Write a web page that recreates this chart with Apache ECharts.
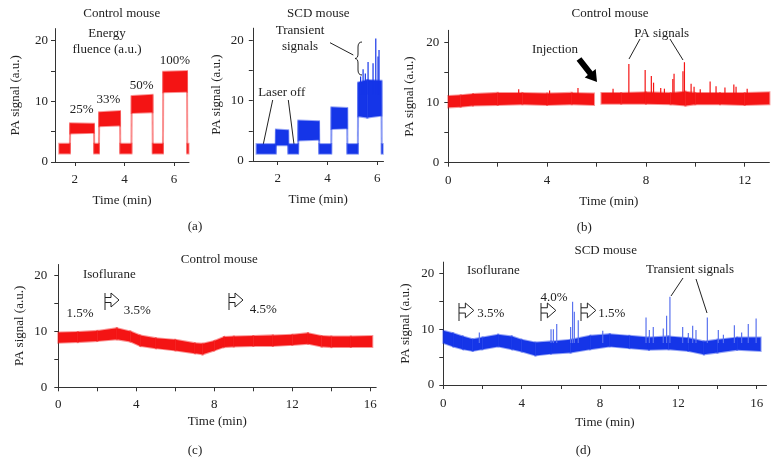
<!DOCTYPE html>
<html>
<head>
<meta charset="utf-8">
<script src="https://cdn.jsdelivr.net/npm/echarts@6/dist/echarts.min.js"></script>
<style>
  html, body { margin: 0; padding: 0; background: #fff; }
  #chart { width: 780px; height: 476px; }
</style>
</head>
<body>
<div id="chart"></div>
<script>
// (a) control mouse: energy steps, envelope of the noisy trace
var a1Time = [1.37, 1.80, 1.81, 2.77, 2.78, 2.97, 2.98, 3.82, 3.83, 4.28, 4.29, 5.13, 5.14, 5.55, 5.56, 6.52, 6.53, 6.58];
var a1Low  = [1.4, 1.4, 4.7, 4.8, 1.4, 1.4, 5.9, 6.0, 1.4, 1.4, 8.1, 8.2, 1.4, 1.4, 11.5, 11.6, 1.4, 1.4];
var a1High = [3.0, 3.0, 6.4, 6.3, 3.0, 3.0, 8.2, 8.4, 3.0, 3.0, 10.9, 11.1, 3.0, 3.0, 14.9, 15.0, 3.0, 3.0];

// (a) SCD mouse
var a2Time = [1.15, 1.92, 1.93, 2.42, 2.43, 2.82, 2.83, 3.66, 3.67, 4.15, 4.16, 4.79, 4.80, 5.22, 5.23, 5.6, 6.17, 6.18, 6.22];
var a2Low  = [1.2, 1.2, 2.6, 2.6, 1.2, 1.2, 3.4, 3.5, 1.2, 1.2, 5.3, 5.4, 1.2, 1.2, 7.4, 7.2, 7.5, 1.2, 1.2];
var a2High = [2.8, 2.8, 5.2, 5.1, 2.8, 2.8, 6.7, 6.6, 2.8, 2.8, 8.9, 8.8, 2.8, 2.8, 13.0, 13.4, 13.3, 2.8, 2.8];
var a2SpikeTime = [5.33, 5.43, 5.52, 5.63, 5.83, 5.94, 6.03, 6.07];
var a2SpikePeak = [14.0, 15.2, 14.5, 16.4, 16.2, 20.3, 17.3, 18.4];

// (b) control mouse, injection
var b1Time = [0, 0.5, 1, 2, 3, 4, 5, 5.9];
var b1Low  = [9.2, 9.3, 9.5, 9.6, 9.7, 9.6, 9.7, 9.6];
var b1High = [11.1, 11.2, 11.4, 11.6, 11.6, 11.5, 11.6, 11.5];
var b2Time = [6.2, 7, 8, 9, 9.6, 10, 11, 12, 13];
var b2Low  = [9.8, 9.8, 9.8, 9.7, 9.5, 9.7, 9.7, 9.6, 9.7];
var b2High = [11.6, 11.6, 11.7, 11.6, 11.8, 11.6, 11.6, 11.6, 11.7];
var bSpikeTime = [2.85, 4.1, 5.25, 6.67, 7.31, 7.97, 8.22, 8.31, 8.6, 8.75, 9.09, 9.14, 9.5, 9.56, 9.83, 9.95, 10.2, 10.6, 10.84, 11.2, 11.56, 11.65, 12.1];
var bSpikePeak = [12.2, 12.0, 12.4, 12.3, 16.4, 15.4, 14.4, 13.3, 12.4, 12.3, 13.9, 14.8, 15.2, 16.7, 13.1, 12.6, 12.2, 13.5, 12.7, 12.5, 13.0, 12.6, 12.3];

// (c) control mouse, isoflurane
var cTime = [0, 1, 2, 3, 3.7, 4.2, 5, 6, 7, 7.4, 8, 8.5, 9, 10, 11, 12, 12.8, 13.5, 14, 15, 16.1];
var cLow  = [8.0, 8.1, 8.3, 8.6, 8.2, 7.4, 7.0, 6.6, 6.1, 5.9, 6.6, 7.2, 7.3, 7.4, 7.4, 7.6, 7.8, 7.3, 7.2, 7.2, 7.2];
var cHigh = [9.8, 9.9, 10.1, 10.6, 10.0, 9.3, 8.8, 8.5, 7.9, 7.8, 8.3, 9.0, 9.1, 9.2, 9.3, 9.4, 9.7, 9.2, 9.1, 9.1, 9.2];

// (d) SCD mouse, isoflurane
var dTime = [0, 0.5, 1, 1.5, 2, 2.8, 3.5, 4, 4.7, 5.5, 6.5, 7.5, 8.5, 9.5, 10.5, 11.5, 12.5, 13.3, 14, 15, 16.2];
var dLow  = [7.5, 6.9, 6.4, 6.1, 6.4, 6.9, 6.4, 6.0, 5.3, 5.6, 5.8, 6.4, 6.9, 6.6, 6.3, 6.4, 6.1, 5.5, 5.8, 6.3, 6.1];
var dHigh = [9.7, 9.25, 8.7, 8.2, 8.5, 9.0, 8.7, 8.1, 7.6, 7.8, 8.1, 8.8, 9.1, 8.8, 8.5, 8.7, 8.4, 7.8, 8.1, 8.5, 8.5];
var dSpikeTime = [1.84, 5.5, 5.62, 5.79, 6.5, 6.6, 6.69, 6.89, 8.14, 10.35, 10.52, 10.72, 11.23, 11.4, 11.57, 12.22, 12.51, 12.73, 12.9, 13.48, 14.04, 14.3, 14.86, 15.23, 15.57, 15.97];
var dSpikePeak = [9.4, 10.0, 10.0, 10.9, 10.4, 14.9, 13.1, 11.6, 9.7, 12.1, 9.85, 10.4, 10.1, 12.4, 15.8, 10.4, 9.3, 10.6, 9.85, 12.1, 9.85, 9.0, 10.7, 9.4, 10.9, 11.9];

var RED = '#f41414', RED_EDGE = 'rgba(244,20,20,0.45)';
var BLUE = '#1535e8', BLUE_EDGE = 'rgba(21,53,232,0.45)';
var FONT = '"Liberation Serif", "DejaVu Serif", serif';
var FS = 13;
var AXC = '#333';

function band(idx, times, lows, highs, color, edge) {
  return {
    type: 'custom', xAxisIndex: idx, yAxisIndex: idx, silent: true,
    encode: { x: 0, y: [1, 2] },
    data: times.map(function (t, i) { return [t, lows[i], highs[i]]; }),
    renderItem: function (params, api) {
      var i = params.dataIndex;
      if (i >= times.length - 1) return null;
      var p1 = api.coord([times[i], highs[i]]);
      var p2 = api.coord([times[i + 1], highs[i + 1]]);
      var p3 = api.coord([times[i + 1], lows[i + 1]]);
      var p4 = api.coord([times[i], lows[i]]);
      return { type: 'polygon', shape: { points: [p1, p2, p3, p4] },
        style: { fill: color, stroke: edge, lineWidth: 2 } };
    }
  };
}

function spikes(idx, times, peaks, base, color) {
  return {
    type: 'custom', xAxisIndex: idx, yAxisIndex: idx, silent: true,
    encode: { x: 0, y: 1 },
    data: times.map(function (t, i) { return [t, peaks[i]]; }),
    renderItem: function (params, api) {
      var p = api.coord([api.value(0), api.value(1)]);
      var b = api.coord([api.value(0), base]);
      return { type: 'line', shape: { x1: p[0], y1: p[1], x2: b[0], y2: b[1] },
        style: { stroke: color, lineWidth: 1.2 } };
    }
  };
}

function xAx(idx, min, max, ticks, labels, margin, gap) {
  return {
    type: 'value', gridIndex: idx, min: min, max: max,
    name: 'Time (min)', nameLocation: 'middle', nameGap: gap,
    nameTextStyle: { fontFamily: FONT, fontSize: FS, color: '#222' },
    axisLine: { lineStyle: { color: AXC, width: 1 } },
    axisTick: { customValues: ticks, length: 4, lineStyle: { color: AXC } },
    axisLabel: { customValues: labels, margin: margin, fontFamily: FONT, fontSize: FS, color: '#222' },
    splitLine: { show: false }
  };
}

function yAx(idx, margin, gap) {
  return {
    type: 'value', gridIndex: idx, min: 0, max: 22,
    name: 'PA signal (a.u.)', nameLocation: 'middle', nameGap: gap,
    nameTextStyle: { fontFamily: FONT, fontSize: FS, color: '#222' },
    axisLine: { show: true, lineStyle: { color: AXC, width: 1 } },
    axisTick: { show: true, customValues: [0, 5, 10, 15, 20], length: 4, lineStyle: { color: AXC } },
    axisLabel: { customValues: [0, 10, 20], margin: margin, fontFamily: FONT, fontSize: FS, color: '#222' },
    splitLine: { show: false }
  };
}

function txt(x, y, s) {
  return { type: 'text', x: x, y: y, silent: true,
    style: { text: s, fontFamily: FONT, fontSize: FS, fill: '#222', align: 'center', verticalAlign: 'middle' } };
}
function ln(x1, y1, x2, y2) {
  return { type: 'line', silent: true, shape: { x1: x1, y1: y1, x2: x2, y2: y2 }, style: { stroke: '#222', lineWidth: 1 } };
}
function curve(x1, y1, cx, cy, x2, y2) {
  return { type: 'bezierCurve', silent: true, shape: { x1: x1, y1: y1, cpx1: cx, cpy1: cy, x2: x2, y2: y2 },
    style: { fill: null, stroke: '#222', lineWidth: 1 } };
}
// outlined "step" arrow used for the isoflurane changes
function stepArrow(x, y, h) {
  var s = h / 17;
  return [
    { type: 'polyline', silent: true,
      shape: { points: [[x, y + 4.5 * s], [x + 6 * s, y + 4.5 * s], [x + 6 * s, y], [x + 14 * s, y + 7 * s],
                        [x + 6 * s, y + 14 * s], [x + 6 * s, y + 9.5 * s], [x, y + 9.5 * s]] },
      style: { fill: null, stroke: '#222', lineWidth: 1 } },
    ln(x, y, x, y + 17 * s)
  ];
}

var graphics = [
  txt(121.7, 13.3, 'Control mouse'),
  txt(107, 33.3, 'Energy'), txt(107, 49.3, 'fluence (a.u.)'),
  txt(81.7, 110, '25%'), txt(108.3, 100, '33%'), txt(141.7, 86, '50%'), txt(175, 60.7, '100%'),
  txt(318.3, 13.3, 'SCD mouse'),
  txt(300, 30.7, 'Transient'), txt(300, 46.7, 'signals'),
  ln(330, 42.7, 353.3, 55),
  curve(362, 42, 358, 42, 358, 47), ln(358, 47, 358, 54), curve(358, 54, 358, 58.3, 355, 58.5),
  curve(355, 58.5, 358, 58.7, 358, 63), ln(358, 63, 358, 70), curve(358, 70, 358, 75, 362, 75),
  txt(281.7, 92.7, 'Laser off'),
  ln(272.7, 100, 261.7, 151.7), ln(288.3, 100, 294.3, 146.7),
  txt(195, 226.7, '(a)'),
  txt(610, 13.3, 'Control mouse'),
  txt(555, 49.3, 'Injection'),
  { type: 'polygon', silent: true,
    shape: { points: [[581.4, 57.2], [592.6, 71.5], [595.7, 69.0], [597, 82], [584.7, 77.6], [587.8, 75.1], [576.6, 60.8]] },
    style: { fill: '#000' } },
  txt(661.7, 34, 'PA signals'),
  ln(640, 39, 629, 59), ln(670, 39, 683, 60),
  txt(584.3, 227.7, '(b)'),
  txt(219.3, 259.3, 'Control mouse'),
  txt(109.3, 275, 'Isoflurane'),
  txt(80, 313.3, '1.5%'), txt(137.3, 311, '3.5%'), txt(263.3, 310, '4.5%'),
  txt(195, 450.7, '(c)'),
  txt(605.7, 250.7, 'SCD mouse'),
  txt(493.3, 271, 'Isoflurane'),
  txt(490.7, 314, '3.5%'), txt(554, 297.3, '4.0%'), txt(611.7, 314, '1.5%'),
  txt(690, 269.3, 'Transient signals'),
  ln(683, 278, 671, 296), ln(696, 279, 707, 313),
  txt(583.3, 450.7, '(d)')
].concat(stepArrow(105, 293, 17), stepArrow(229, 293, 17),
         stepArrow(459, 303, 18), stepArrow(541, 303, 18), stepArrow(581, 303, 18));

var option = {
  backgroundColor: '#fff',
  animation: false,
  grid: [
    { left: 55, top: 28.6, width: 134, height: 133.4 },
    { left: 252.8, top: 28.2, width: 130.7, height: 132.8 },
    { left: 448.3, top: 30.3, width: 321.1, height: 132.4 },
    { left: 58.3, top: 264.5, width: 317.9, height: 122.8 },
    { left: 443.3, top: 262.1, width: 323.2, height: 122.9 }
  ],
  xAxis: [
    xAx(0, 1.2, 6.6, [2, 4, 6], [2, 4, 6], 11, 32),
    xAx(1, 1.0, 6.25, [2, 4, 6], [2, 4, 6], 11, 32),
    xAx(2, 0, 13, [0, 2, 4, 6, 8, 10, 12], [0, 4, 8, 12], 11, 32),
    xAx(3, 0, 16.3, [0, 2, 4, 6, 8, 10, 12, 14, 16], [0, 4, 8, 12, 16], 11, 28),
    xAx(4, 0, 16.5, [0, 2, 4, 6, 8, 10, 12, 14, 16], [0, 4, 8, 12, 16], 12, 31)
  ],
  yAxis: [yAx(0, 7, 33), yAx(1, 9, 30), yAx(2, 9, 32), yAx(3, 11, 32), yAx(4, 9, 31)],
  series: [
    band(0, a1Time, a1Low, a1High, RED, RED_EDGE),
    band(1, a2Time, a2Low, a2High, BLUE, BLUE_EDGE),
    spikes(1, a2SpikeTime, a2SpikePeak, 11, BLUE),
    band(2, b1Time, b1Low, b1High, RED, RED_EDGE),
    band(2, b2Time, b2Low, b2High, RED, RED_EDGE),
    spikes(2, bSpikeTime, bSpikePeak, 10.5, RED),
    band(3, cTime, cLow, cHigh, RED, RED_EDGE),
    band(4, dTime, dLow, dHigh, BLUE, BLUE_EDGE),
    spikes(4, dSpikeTime, dSpikePeak, 7.5, '#5a72ee')
  ],
  graphic: graphics
};

var chart = echarts.init(document.getElementById('chart'));
chart.setOption(option);
</script>
</body>
</html>
